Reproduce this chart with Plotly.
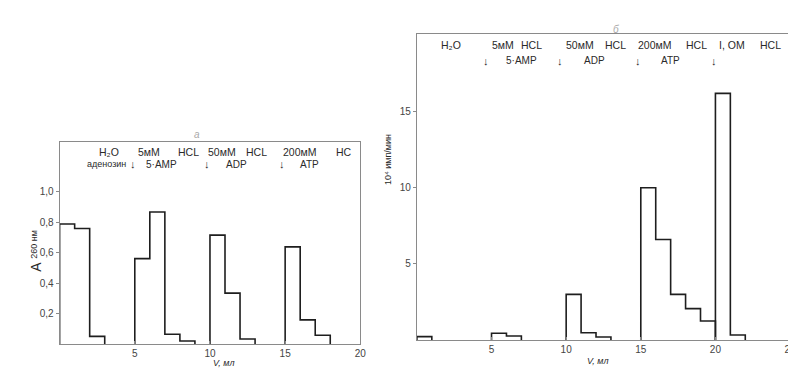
import plotly.graph_objects as go

# ---- data (fractions of 1 ml) ----
# panel а : A260
a_starts = [0, 5, 10, 15]
a_values = [
    [0.787, 0.758, 0.05],
    [0.56, 0.866, 0.064, 0.02],
    [0.714, 0.334, 0.033],
    [0.637, 0.158, 0.057],
]
# panel б : 10^4 imp/min
b_starts = [0, 5, 10, 15, 20]
b_values = [
    [0.22],
    [0.44, 0.26],
    [3.0, 0.48, 0.2],
    [10.0, 6.6, 3.0, 2.06, 1.25],
    [16.2, 0.33],
]
frac_ml = 1.0

a_yticks = [0.2, 0.4, 0.6, 0.8, 1.0]
a_yticklabels = ["0,2", "0,4", "0,6", "0,8", "1,0"]
a_xticks = [5, 10, 15, 20]
b_yticks = [5, 10, 15]
b_xticks = [5, 10, 15, 20, 25]

# header labels (x position in ml, text)
a_row1 = [(3.28, "H₂O"), (5.95, "5мМ"), (8.6, "HCL"), (10.8, "50мМ"),
          (13.1, "HCL"), (15.95, "200мМ"), (18.9, "HC")]
a_row2 = [(3.1, "аденозин"), (6.8, "5·AMP"), (11.75, "ADP"), (16.6, "ATP")]
a_arrows = [4.88, 9.83, 14.79]

b_row1 = [(2.26, "H₂O"), (5.75, "5мМ"), (7.7, "HCL"), (10.95, "50мМ"),
          (13.3, "HCL"), (15.95, "200мМ"), (18.7, "HCL"), (21.1, "I, OM"), (23.7, "HCL")]
b_row2 = [(7.0, "5·AMP"), (11.9, "ADP"), (17.0, "ATP")]
b_arrows = [4.66, 9.6, 14.8, 19.9]

INK = "#1e1e1e"
TXT = "#2a2a2a"
AX = "#8a8a8a"
FONT = "Liberation Sans"


def step_xy(start, vals):
    xs = [start, start] + [start + (i + 1) * frac_ml for i in range(len(vals))]
    ys = [0] + list(vals) + [0]
    return xs, ys


fig = go.Figure()
for s, v in zip(a_starts, a_values):
    xs, ys = step_xy(s, v)
    fig.add_trace(go.Scatter(x=xs, y=ys, mode="lines", line=dict(shape="hv", color=INK, width=1.6),
                             xaxis="x", yaxis="y", showlegend=False, hoverinfo="skip"))
for s, v in zip(b_starts, b_values):
    xs, ys = step_xy(s, v)
    fig.add_trace(go.Scatter(x=xs, y=ys, mode="lines", line=dict(shape="hv", color=INK, width=1.6),
                             xaxis="x2", yaxis="y2", showlegend=False, hoverinfo="skip"))

W, H = 796, 370
tf = dict(size=10, color="#444", family=FONT)
xcommon = dict(showgrid=False, zeroline=False, linecolor=AX, linewidth=1, mirror=True,
               ticks="inside", ticklen=3, tickcolor=AX, tickfont=tf)
ycommon = dict(showgrid=False, zeroline=False, linecolor=AX, linewidth=1, mirror=True,
               ticks="outside", ticklen=3, tickcolor=AX, tickfont=tf)

fig.update_layout(
    width=W, height=H, margin=dict(l=0, r=0, t=0, b=0),
    paper_bgcolor="white", plot_bgcolor="white",
    font=dict(family=FONT, color=TXT),
    xaxis=dict(domain=[52 / W, 355 / W], range=[0, 20], tickvals=a_xticks, anchor="y", **xcommon),
    yaxis=dict(domain=[1 - 336 / H, 1 - 134 / H], range=[0, 1.325], tickvals=a_yticks,
               ticktext=a_yticklabels, anchor="x", **ycommon),
    xaxis2=dict(domain=[412 / W, 788 / W], range=[0, 25], tickvals=b_xticks, anchor="y2", **xcommon),
    yaxis2=dict(domain=[1 - 332 / H, 1 - 26 / H], range=[0, 20.1], tickvals=b_yticks, anchor="x2", **ycommon),
)

ann = []


def add_text(xref, yref, x, y, text, size=10.5, **kw):
    ann.append(dict(x=x, y=y, xref=xref, yref=yref, text=text, showarrow=False,
                    font=dict(size=size, color=TXT, family=FONT), xanchor="center", yanchor="middle", **kw))


for x, t in a_row1:
    add_text("x", "y", x, 1.26, t)
for x, t in a_row2:
    add_text("x", "y", x, 1.18, t, size=10 if t != "аденозин" else 9)
for x in a_arrows:
    add_text("x", "y", x, 1.18, "↓", size=11)
for x, t in b_row1:
    add_text("x2", "y2", x, 19.36, t)
for x, t in b_row2:
    add_text("x2", "y2", x, 18.35, t, size=10)
for x in b_arrows:
    add_text("x2", "y2", x, 18.3, "↓", size=11)

# axis titles
ann.append(dict(x=18 / W, y=1 - 266 / H, xref="paper", yref="paper", showarrow=False, textangle=-90,
                text="A", font=dict(size=14, color=TXT, family=FONT)))
ann.append(dict(x=19 / W, y=1 - 236 / H, xref="paper", yref="paper", showarrow=False, textangle=-90,
                text="260 нм", font=dict(size=9, color=TXT, family=FONT)))
ann.append(dict(x=383 / W, y=1 - 152 / H, xref="paper", yref="paper", showarrow=False, textangle=-90,
                text="10⁴ имп/мин", font=dict(size=9, color=TXT, family=FONT)))
ann.append(dict(x=205 / W, y=1 - 362 / H, xref="paper", yref="paper", showarrow=False,
                text="V, мл", font=dict(size=9, color=TXT, family=FONT, style="italic")))
ann.append(dict(x=608 / W, y=1 - 360 / H, xref="paper", yref="paper", showarrow=False,
                text="V, мл", font=dict(size=9, color=TXT, family=FONT, style="italic")))
# panel letters
ann.append(dict(x=185 / W, y=1 - 126 / H, xref="paper", yref="paper", showarrow=False,
                text="а", font=dict(size=10, color="#aaaaaa", family=FONT, style="italic")))
ann.append(dict(x=618 / W, y=1 - 14 / H, xref="paper", yref="paper", showarrow=False,
                text="б", font=dict(size=10, color="#aaaaaa", family=FONT, style="italic")))

fig.update_layout(annotations=ann)
fig.write_html("out.html")
